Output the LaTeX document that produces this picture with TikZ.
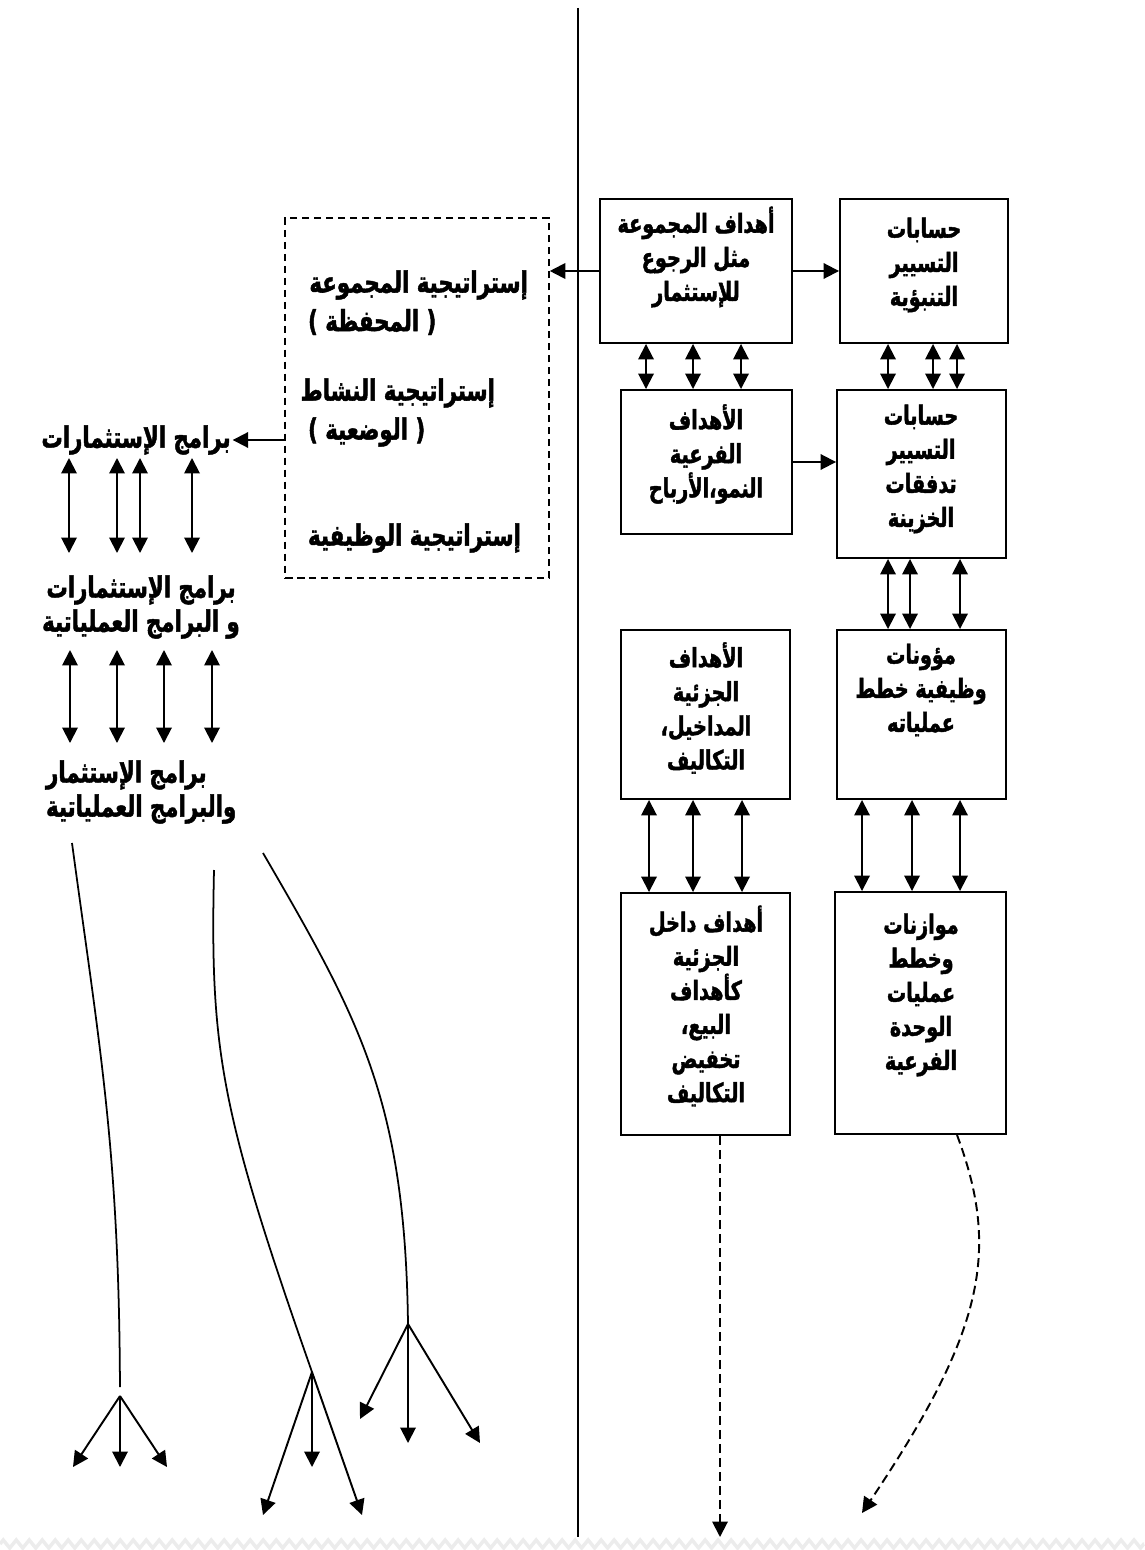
\documentclass[tikz,border=0pt]{standalone}
\usepackage{fontspec}
\newfontfamily\arabicfont[Script=Arabic,FakeStretch=0.73,BoldFeatures={FakeBold=1.6}]{DejaVu Sans}
\newfontfamily\latfont[FakeStretch=0.73,BoldFeatures={FakeBold=1.6}]{DejaVu Sans}
\TeXXeTstate=1
\usetikzlibrary{arrows.meta,decorations.pathmorphing}
\newcommand\arl[1]{\beginR #1\endR}

\begin{document}
\begin{tikzpicture}[x=0.02cm,y=-0.02cm,
  main box/.style={rectangle,draw,line width=1.1pt,inner sep=0pt},
  dash box/.style={rectangle,draw,line width=0.9pt,dash pattern=on 0.15cm off 0.09cm,inner sep=0pt},
  box size/.style 2 args={minimum width=#1*0.02cm,minimum height=#2*0.02cm},
  txt/.style={font=\arabicfont\bfseries\fontsize{15}{19.4}\selectfont,align=center,inner sep=1pt},
  big txt/.style={txt,font=\arabicfont\bfseries\fontsize{16.6}{19.4}\selectfont},
  tip/.style={-{Triangle[length=0.31cm,width=0.31cm]},line width=1.1pt},
  dbl/.style={{Triangle[length=0.31cm,width=0.31cm]}-{Triangle[length=0.31cm,width=0.31cm]},line width=1.1pt},
  dashed arrow/.style={tip,dash pattern=on 0.18cm off 0.1cm},
  curve/.style={line width=1pt}]%
  \useasboundingbox (0,0) rectangle (1144,1550);
  \draw[gray!15,line width=2pt,decorate,decoration={zigzag,segment length=0.26cm,amplitude=0.08cm}] (0,1544) -- (1144,1544);
  \draw[line width=1.6pt] (578,8) -- (578,1537);

  \node[main box,box size={192}{144}] (A) at (696,271) {};
  \node[main box,box size={168}{144}] (B) at (924,271) {};
  \node[main box,box size={171}{144}] (C) at (706.5,462) {};
  \node[main box,box size={169}{168}] (D) at (921.5,474) {};
  \node[main box,box size={169}{169}] (F) at (705.5,714.5) {};
  \node[main box,box size={169}{169}] (E) at (921.5,714.5) {};
  \node[main box,box size={169}{242}] (H) at (705.5,1014) {};
  \node[main box,box size={171}{242}] (G) at (920.5,1013) {};
  \node[dash box,box size={264}{360}] (Dsh) at (417,398) {};

  \node[txt] (tA) at (696,257) {\arl{أهداف المجموعة}\\\arl{مثل الرجوع}\\\arl{للإستثمار}};
  \node[txt] (tB) at (924,265) {\arl{حسابات}\\\arl{التسيير}\\\arl{التنبؤية}};
  \node[txt] (tC) at (706,454) {\arl{الأهداف}\\\arl{الفرعية}\\\arl{النمو،الأرباح}};
  \node[txt] (tD) at (921,469) {\arl{حسابات}\\\arl{التسيير}\\\arl{تدفقات}\\\arl{الخزينة}};
  \node[txt] (tE) at (921,690) {\arl{مؤونات}\\\arl{وظيفية خطط}\\\arl{عملياته}};
  \node[txt] (tF) at (706,708) {\arl{الأهداف}\\\arl{الجزئية}\\\arl{المداخيل،}\\\arl{التكاليف}};
  \node[txt] (tH) at (706,1006) {\arl{أهداف داخل}\\\arl{الجزئية}\\\arl{كأهداف}\\\arl{البيع،}\\\arl{تخفيض}\\\arl{التكاليف}};
  \node[txt] (tG) at (921,995) {\arl{موازنات}\\\arl{وخطط}\\\arl{عمليات}\\\arl{الوحدة}\\\arl{الفرعية}};

  \node[big txt,anchor=east] (S1) at (530,285) {\arl{إستراتيجية المجموعة}};
  \node[big txt,anchor=west] (S2) at (306,322) {{\latfont(} \arl{المحفظة} {\latfont)}};
  \node[big txt,anchor=east] (S3) at (497,393) {\arl{إستراتيجية النشاط}};
  \node[big txt,anchor=west] (S4) at (306,432) {{\latfont(} \arl{الوضعية} {\latfont)}};
  \node[big txt,anchor=east] (S5) at (523,538) {\arl{إستراتيجية الوظيفية}};

  \node[big txt] (L1) at (136,440) {\arl{برامج الإستثمارات}};
  \node[big txt] (L2) at (141,607) {\arl{برامج الإستثمارات}\\\arl{و البرامج العملياتية}};
  \node[big txt,align=left,anchor=west] (L3) at (44,792) {\arl{برامج الإستثمار}\\\arl{والبرامج العملياتية}};

  \draw[tip] (A.east) -- (A.east -| B.west);
  \draw[tip] (C.east) -- (C.east -| D.west);
  \draw[tip] (A.west) -- (A.west -| Dsh.east);
  \draw[tip] (Dsh.west |- L1) -- (L1.east);
  \foreach \x in {646,693,741}
    \draw[dbl] (A.south -| \x,0) -- (C.north -| \x,0);
  \foreach \x in {888,933,957}
    \draw[dbl] (B.south -| \x,0) -- (D.north -| \x,0);
  \foreach \x in {888,910,960}
    \draw[dbl] (D.south -| \x,0) -- (E.north -| \x,0);
  \foreach \x in {649,693,742}
    \draw[dbl] (F.south -| \x,0) -- (H.north -| \x,0);
  \foreach \x in {862,912,960}
    \draw[dbl] (E.south -| \x,0) -- (G.north -| \x,0);
  \foreach \x in {69,117,140,192}
    \draw[dbl,shorten <=0.36cm,shorten >=1.08cm] (L1 -| \x,0) -- (L2 -| \x,0);
  \foreach \x in {70,117,164,212}
    \draw[dbl,shorten <=0.86cm,shorten >=0.98cm] (L2 -| \x,0) -- (L3 -| \x,0);

  \coordinate (e1) at (720,1537);
  \coordinate (e2) at (862,1513);
  \draw[dashed arrow] (H.south -| e1) -- (e1);
  \draw[dashed arrow] (G.south -| 957,0) .. controls (1000,1250) and (985,1330) .. (e2);

  \coordinate (c1) at (72,843);
  \coordinate (c2) at (214,870);
  \coordinate (c3) at (263,853);
  \coordinate (f1) at (120,1396);
  \coordinate (f2) at (312,1372);
  \coordinate (f3) at (408,1324);
  \draw[curve,shorten >=0.18cm] (c1) .. controls (100,1050) and (119,1150) .. (f1);
  \draw[curve] (c2) .. controls (210,1050) and (220,1110) .. (f2);
  \draw[curve] (c3) .. controls (360,1020) and (405,1100) .. (f3);
  \foreach \dx/\dy in {-47/71,0/71,47/71}
    \draw[tip] (f1) -- ++(\dx,\dy);
  \foreach \dx/\dy in {-49/143,0/95,50/143}
    \draw[tip] (f2) -- ++(\dx,\dy);
  \foreach \dx/\dy in {-48/95,0/119,72/119}
    \draw[tip] (f3) -- ++(\dx,\dy);
\end{tikzpicture}
\end{document}
